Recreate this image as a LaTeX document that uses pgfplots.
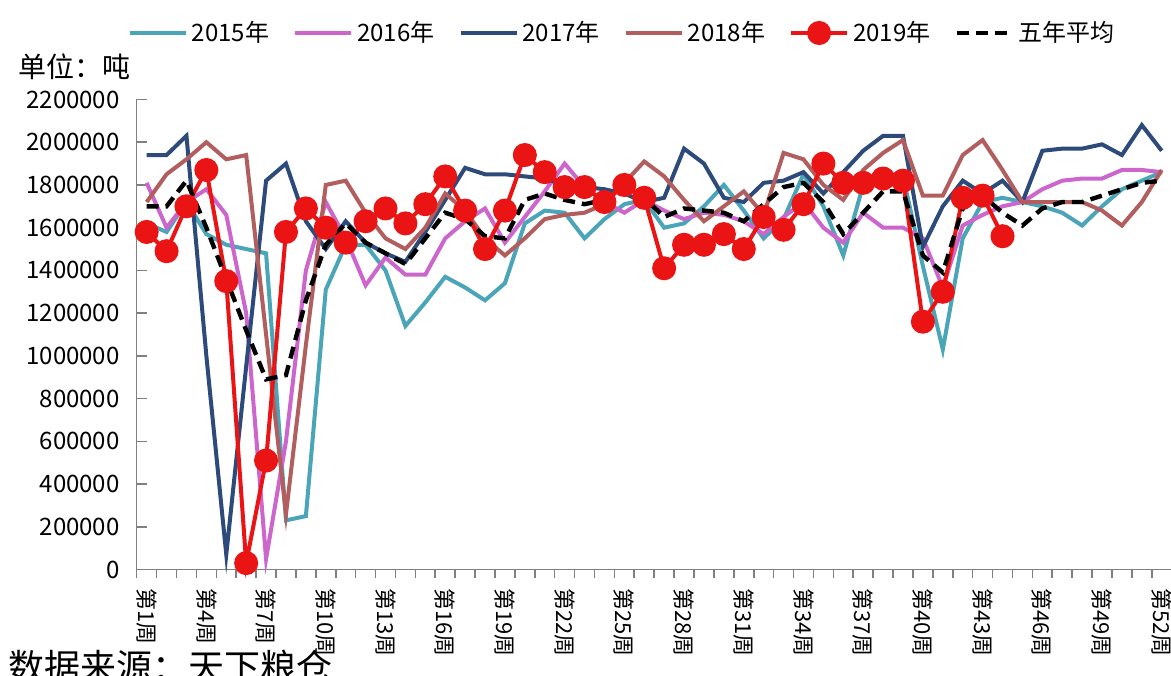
\documentclass[border=0pt]{standalone}
\usepackage{fontspec}
\setmainfont{Noto Sans CJK SC}
\usepackage{pgfplots}
\pgfplotsset{compat=1.18}
\usepackage{pgfplotstable}
\definecolor{c15}{RGB}{75,165,185}
\definecolor{c16}{RGB}{204,102,204}
\definecolor{c17}{RGB}{44,74,122}
\definecolor{c18}{RGB}{178,94,94}
\definecolor{c19}{RGB}{235,20,20}
\definecolor{axgray}{RGB}{128,128,128}
\pgfplotsset{mylegend/.style={legend image code/.code={\draw[##1, mark=none] (0pt,0pt) -- (28pt,0pt); \draw[##1, draw=none] plot coordinates {(14pt,0pt)};}}}

\pgfplotstableread{
w y15 y16 y17 y18 avg
1 1620000 1810000 1940000 1720000 1700000
2 1580000 1600000 1940000 1850000 1700000
3 1720000 1720000 2030000 1920000 1820000
4 1570000 1780000 1000000 2000000 1600000
5 1520000 1660000 70000 1920000 1360000
6 1500000 1200000 950000 1940000 1120000
7 1480000 50000 1820000 1100000 890000
8 230000 600000 1900000 260000 910000
9 250000 1400000 1630000 1050000 1260000
10 1310000 1720000 1500000 1800000 1520000
11 1520000 1550000 1630000 1820000 1620000
12 1520000 1330000 1530000 1670000 1530000
13 1400000 1460000 1480000 1550000 1480000
14 1140000 1380000 1440000 1500000 1430000
15 1250000 1380000 1580000 1600000 1550000
16 1370000 1550000 1730000 1760000 1670000
17 1320000 1630000 1880000 1680000 1640000
18 1260000 1690000 1850000 1550000 1560000
19 1340000 1530000 1850000 1470000 1550000
20 1620000 1650000 1840000 1550000 1730000
21 1680000 1770000 1830000 1640000 1760000
22 1670000 1900000 1800000 1660000 1730000
23 1550000 1790000 1790000 1670000 1710000
24 1640000 1720000 1780000 1710000 1730000
25 1710000 1670000 1760000 1810000 1770000
26 1730000 1730000 1720000 1910000 1740000
27 1600000 1680000 1740000 1840000 1650000
28 1620000 1640000 1970000 1730000 1690000
29 1700000 1670000 1900000 1630000 1680000
30 1800000 1660000 1740000 1700000 1670000
31 1680000 1630000 1720000 1770000 1630000
32 1550000 1570000 1810000 1660000 1710000
33 1640000 1650000 1820000 1950000 1790000
34 1850000 1720000 1860000 1920000 1810000
35 1700000 1600000 1760000 1800000 1720000
36 1470000 1530000 1860000 1730000 1570000
37 1800000 1670000 1960000 1870000 1670000
38 1840000 1600000 2030000 1950000 1770000
39 1840000 1600000 2030000 2010000 1770000
40 1420000 1550000 1510000 1750000 1470000
41 1030000 1320000 1700000 1750000 1390000
42 1550000 1610000 1820000 1940000 1690000
43 1720000 1660000 1760000 2010000 1750000
44 1740000 1700000 1820000 1870000 1670000
45 1720000 1720000 1720000 1720000 1610000
46 1700000 1780000 1960000 1720000 1690000
47 1670000 1820000 1970000 1720000 1720000
48 1610000 1830000 1970000 1720000 1720000
49 1700000 1830000 1990000 1680000 1750000
50 1780000 1870000 1940000 1610000 1780000
51 1820000 1870000 2080000 1720000 1810000
52 1860000 1860000 1960000 1870000 1820000
}\dataA

\pgfplotstableread{
w y19
1 1580000
2 1490000
3 1700000
4 1870000
5 1350000
6 30000
7 510000
8 1580000
9 1690000
10 1600000
11 1530000
12 1630000
13 1690000
14 1620000
15 1710000
16 1840000
17 1680000
18 1500000
19 1680000
20 1940000
21 1860000
22 1790000
23 1790000
24 1720000
25 1800000
26 1740000
27 1410000
28 1520000
29 1520000
30 1570000
31 1500000
32 1650000
33 1590000
34 1710000
35 1900000
36 1810000
37 1810000
38 1830000
39 1820000
40 1160000
41 1300000
42 1740000
43 1750000
44 1560000
}\dataB

\begin{document}
\begin{tikzpicture}
\begin{axis}[
  at={(68.35pt,52.75pt)}, anchor=south west,
  scale only axis, width=517.5pt, height=235pt,
  xmin=0.5, xmax=52.5, ymin=0, ymax=2200000,
  clip=false,
  axis x line*=bottom, axis y line*=left,
  axis line style={-, draw=axgray, line width=0.8pt},
  ytick={0,200000,...,2200000},
  scaled y ticks=false,
  major tick length=5pt,
  ytick style={draw=axgray, line width=0.8pt},
  yticklabel style={/pgf/number format/fixed, /pgf/number format/1000 sep={}, /pgf/number format/assume math mode=true, font=\fontsize{12}{14}\selectfont, xshift=-5pt},
  xtick={1,4,...,52},
  xticklabels={第1周,第4周,第7周,第10周,第13周,第16周,第19周,第22周,第25周,第28周,第31周,第34周,第37周,第40周,第43周,第46周,第49周,第52周},
  major x tick style={draw=none},
  minor xtick={0.5,1.5,...,52.5},
  minor tick length=4pt,
  minor x tick style={draw=axgray, line width=0.8pt, yshift=-4pt},
  xticklabel style={rotate=-90, anchor=west, font=\fontsize{11}{12}\selectfont},
  xticklabel shift=6pt,
  legend columns=6,
  legend style={at={(-0.0088,1.1415)}, anchor=west, draw=none, fill=none, inner sep=0pt,
    font=\fontsize{12}{14}\selectfont,
    /tikz/every even column/.append style={column sep=10pt}},
]
\addplot[mylegend, c15, line width=2pt] table[x=w, y=y15] {\dataA};
\addlegendentry{2015年}
\addplot[mylegend, c16, line width=2pt] table[x=w, y=y16] {\dataA};
\addlegendentry{2016年}
\addplot[mylegend, c17, line width=2pt] table[x=w, y=y17] {\dataA};
\addlegendentry{2017年}
\addplot[mylegend, c18, line width=2pt] table[x=w, y=y18] {\dataA};
\addlegendentry{2018年}
\addplot[mylegend, c19, line width=2pt, mark=*, mark size=5pt, mark options={fill=c19, draw=c19}] table[x=w, y=y19] {\dataB};
\addlegendentry{2019年}
\addplot[mylegend, black, line width=2.2pt, dash pattern=on 6pt off 3.5pt] table[x=w, y=avg] {\dataA};
\addlegendentry{五年平均}
\end{axis}
\node[anchor=west, font=\fontsize{14}{16}\selectfont, inner sep=0pt] at (9pt,304pt) {单位：吨};
\node[anchor=base west, font=\fontsize{18}{20}\selectfont, inner sep=0pt] at (4pt,-2.8pt) {数据来源：天下粮仓};
\pgfresetboundingbox
\useasboundingbox (0,0) rectangle (585.5pt,337.5pt);
\end{tikzpicture}
\end{document}
